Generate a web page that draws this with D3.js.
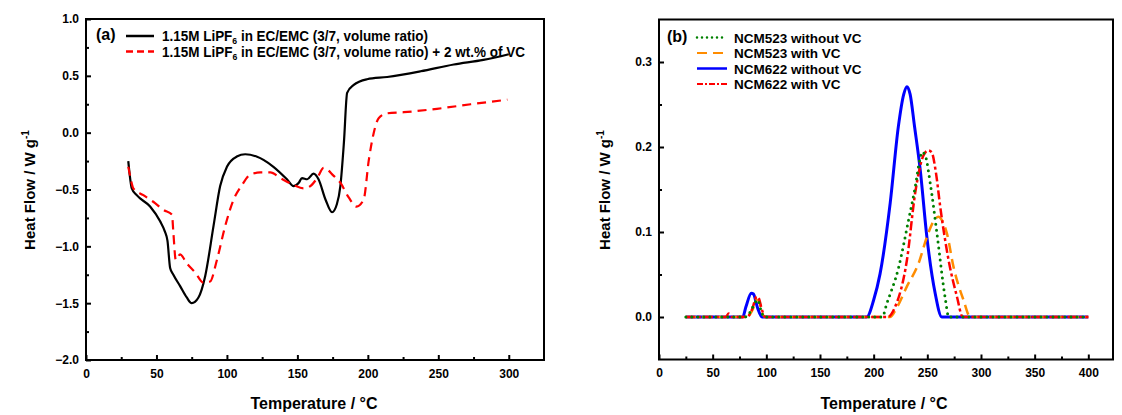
<!DOCTYPE html>
<html>
<head>
<meta charset="utf-8">
<script src="https://cdn.jsdelivr.net/npm/d3@7"></script>
<style>
  body { margin: 0; background: #fff; }
  text { font-family: Arial, "Liberation Sans", sans-serif; font-weight: bold; fill: #000; }
</style>
</head>
<body>
<div id="chart"></div>
<script>
// ---- panel (a) data: DSC of electrolytes ----
var blackCurve = [[30,-0.25],[32.5,-0.49],[36,-0.55],[45.5,-0.65],[52.6,-0.78],[56,-0.87],[57.8,-0.95],[59.7,-1.19],[62,-1.25],[66.8,-1.35],[71.5,-1.45],[75,-1.50],[79.8,-1.45],[84.6,-1.26],[90.5,-0.82],[95.2,-0.47],[100,-0.30],[107,-0.21],[113,-0.19],[121,-0.21],[133,-0.30],[142.6,-0.41],[147.3,-0.47],[151,-0.44],[153.3,-0.40],[157,-0.41],[161.5,-0.36],[165,-0.41],[170,-0.59],[174.6,-0.70],[178,-0.63],[180.5,-0.47],[183,-0.09],[185.3,0.35],[190,0.42],[199.5,0.47],[213.7,0.49],[237.4,0.54],[261,0.60],[282,0.64],[300,0.69]];
var redCurve = [[30,-0.30],[31.3,-0.38],[33.6,-0.49],[40.7,-0.55],[49,-0.62],[55,-0.68],[61,-0.72],[62,-0.88],[63.7,-1.12],[66.8,-1.07],[71.5,-1.15],[77.5,-1.23],[83.4,-1.32],[88,-1.31],[92.9,-1.12],[98.8,-0.82],[104.7,-0.59],[110.7,-0.46],[116.6,-0.37],[123.7,-0.35],[130.8,-0.35],[137.9,-0.40],[147.3,-0.46],[154.4,-0.49],[159.2,-0.47],[164,-0.40],[168.7,-0.31],[175.8,-0.38],[180.5,-0.44],[186.4,-0.57],[191.9,-0.65],[197,-0.59],[200.7,-0.24],[204.2,0.0],[207.8,0.13],[213.7,0.17],[225.5,0.18],[249,0.21],[273,0.25],[299,0.29]];

// ---- panel (b) data: cathodes ----
var ncm523NoVC = [[25,0],[80,0],[85,0.006],[90,0.018],[92,0.02],[95,0.008],[98,0],[208,0],[212.3,0.016],[223,0.057],[232.5,0.114],[238.7,0.153],[243,0.185],[245,0.194],[248,0.19],[253,0.155],[259,0.098],[266.7,0.022],[270,0],[400,0]];
var ncm523VC = [[25,0],[82,0],[87,0.008],[91,0.02],[93,0.019],[96,0.005],[99,0],[215,0],[222,0.012],[231,0.036],[241.8,0.063],[249.6,0.094],[256,0.113],[260.4,0.118],[264,0.113],[268.3,0.098],[274.4,0.059],[283.7,0.02],[290,0],[400,0]];
var ncm622NoVC = [[25,0],[78,0],[81,0.012],[86,0.028],[88,0.027],[92,0.01],[96,0],[193.5,0],[200,0.02],[206,0.051],[215.4,0.134],[223,0.224],[228,0.262],[231,0.271],[234,0.262],[238,0.225],[243.4,0.173],[249.6,0.094],[257.3,0.028],[263.5,0],[400,0]];
var ncm622VC = [[25,0],[62,0],[65,0.004],[68,0],[82,0],[87,0.01],[91,0.024],[93,0.022],[96,0.008],[99,0],[213,0],[220,0.012],[231,0.067],[238.7,0.146],[246.4,0.19],[251,0.196],[254,0.194],[258,0.17],[262,0.13],[269.8,0.067],[277.6,0.024],[283,0],[400,0]];

var ticksAx = [0,50,100,150,200,250,300];
var ticksAy = [-2,-1.5,-1,-0.5,0,0.5,1];
var ticksBx = [0,50,100,150,200,250,300,350,400];
var ticksBy = [0,0.1,0.2,0.3];

var svg = d3.select("#chart").append("svg")
  .attr("width", 1122)
  .attr("height", 415);

// scales
var xA = d3.scaleLinear().domain([0, 325]).range([86, 544]);
var yA = d3.scaleLinear().domain([-2, 1]).range([360, 19]);
var xB = d3.scaleLinear().domain([0, 423]).range([659, 1113]);
var yB = d3.scaleLinear().domain([-0.05, 0.35]).range([359.5, 19.5]);

function drawAxes(x, y, xt, xMinor, yt, yMinor, yfmt) {
  var x0 = x.range()[0], x1 = x.range()[1];
  var y0 = y.range()[0], y1 = y.range()[1];

  // minor ticks
  svg.append("g").attr("transform", `translate(0,${y0})`)
    .call(d3.axisBottom(x).tickValues(xMinor).tickSize(-3).tickFormat(""));
  svg.append("g").attr("transform", `translate(${x0},0)`)
    .call(d3.axisLeft(y).tickValues(yMinor).tickSize(-3).tickFormat(""));

  // major ticks
  var gx = svg.append("g").attr("transform", `translate(0,${y0})`)
    .call(d3.axisBottom(x).tickValues(xt).tickSize(-5).tickPadding(9).tickFormat(d3.format("d")));
  var gy = svg.append("g").attr("transform", `translate(${x0},0)`)
    .call(d3.axisLeft(y).tickValues(yt).tickSize(-5).tickPadding(7).tickFormat(d3.format(yfmt)));

  svg.selectAll(".domain").remove();
  svg.selectAll(".tick line").attr("stroke", "#000").attr("stroke-width", 2);
  gx.selectAll("text").style("font-size", "12px").style("font-family", "Arial, 'Liberation Sans', sans-serif").style("font-weight", "bold");
  gy.selectAll("text").style("font-size", "12px").style("font-family", "Arial, 'Liberation Sans', sans-serif").style("font-weight", "bold");

  // frame
  svg.append("rect")
    .attr("x", x0).attr("y", y1)
    .attr("width", x1 - x0).attr("height", y0 - y1)
    .attr("fill", "none").attr("stroke", "#000").attr("stroke-width", 2);
}

function axisTitles(cx, ylx, cy) {
  svg.append("text")
    .attr("x", cx).attr("y", 409)
    .attr("text-anchor", "middle")
    .style("font-size", "16px")
    .text("Temperature / °C");

  var t = svg.append("text")
    .attr("transform", `translate(${ylx},${cy}) rotate(-90)`)
    .attr("text-anchor", "middle")
    .style("font-size", "15px");
  t.append("tspan").text("Heat Flow / W g");
  t.append("tspan").attr("dy", -6).style("font-size", "10px").text("-1");
}

drawAxes(xA, yA, ticksAx, [25,75,125,175,225,275], ticksAy,
  [-1.75,-1.25,-0.75,-0.25,0.25,0.75], ".1f");
drawAxes(xB, yB, ticksBx, [25,75,125,175,225,275,325,375], ticksBy,
  [0.05,0.15,0.25], ".1f");
axisTitles(314, 35, 190);
axisTitles(884, 610, 190);

// panel (a) curves
var lineA = d3.line().x(d => xA(d[0])).y(d => yA(d[1])).curve(d3.curveMonotoneX);
svg.append("path").datum(blackCurve).attr("d", lineA)
  .attr("fill", "none").attr("stroke", "#000").attr("stroke-width", 2.2);
svg.append("path").datum(redCurve).attr("d", lineA)
  .attr("fill", "none").attr("stroke", "#ff0000").attr("stroke-width", 2.2)
  .attr("stroke-dasharray", "9,6");

// panel (b) curves
var lineB = d3.line().x(d => xB(d[0])).y(d => yB(d[1])).curve(d3.curveMonotoneX);
var seriesB = [
  { data: ncm622NoVC, color: "#0000ff", dash: null, w: 3, cap: "butt", name: "NCM622 without VC" },
  { data: ncm523VC, color: "#ff8c00", dash: "10,6", w: 2.5, cap: "butt", name: "NCM523 with VC" },
  { data: ncm622VC, color: "#ff0000", dash: "9,3,3,3", w: 2.5, cap: "butt", name: "NCM622 with VC" },
  { data: ncm523NoVC, color: "#008000", dash: "0,6", w: 3, cap: "round", name: "NCM523 without VC" }
];
seriesB.forEach(function(s) {
  svg.append("path").datum(s.data).attr("d", lineB)
    .attr("fill", "none")
    .attr("stroke", s.color)
    .attr("stroke-width", s.w)
    .attr("stroke-linecap", s.cap)
    .attr("stroke-dasharray", s.dash);
});

// legend (a)
svg.append("text").attr("x", 96).attr("y", 40).style("font-size", "16px").text("(a)");
var legA = [
  { color: "#000", dash: null, extra: "", len: 266 },
  { color: "#ff0000", dash: "7,4", extra: " + 2 wt.% of VC", len: 363 }
];
legA.forEach(function(d, i) {
  var y = 36 + i * 15.5;
  svg.append("line").attr("x1", 126).attr("x2", 154).attr("y1", y).attr("y2", y)
    .attr("stroke", d.color).attr("stroke-width", 2.5).attr("stroke-dasharray", d.dash);
  var t = svg.append("text").attr("x", 162).attr("y", y + 5).style("font-size", "14px")
    .attr("textLength", d.len).attr("lengthAdjust", "spacingAndGlyphs");
  t.append("tspan").text("1.15M LiPF");
  t.append("tspan").attr("dy", 3).style("font-size", "9px").text("6");
  t.append("tspan").attr("dy", -3).text(" in EC/EMC (3/7, volume ratio)" + d.extra);
});

// legend (b)
svg.append("text").attr("x", 667).attr("y", 42).style("font-size", "16px").text("(b)");
var legOrder = [seriesB[3], seriesB[1], seriesB[0], seriesB[2]];
legOrder.forEach(function(s, i) {
  var y = 37.5 + i * 15.5;
  svg.append("line").attr("x1", 697).attr("x2", 727).attr("y1", y).attr("y2", y)
    .attr("stroke", s.color).attr("stroke-width", s.w - 0.5)
    .attr("stroke-linecap", s.cap)
    .attr("stroke-dasharray", s.name === "NCM523 without VC" ? "0,5" : (s.dash === "9,3,3,3" ? "6,2,2,2" : s.dash));
  svg.append("text").attr("x", 734).attr("y", y + 5).style("font-size", "13.5px").text(s.name);
});
</script>
</body>
</html>
